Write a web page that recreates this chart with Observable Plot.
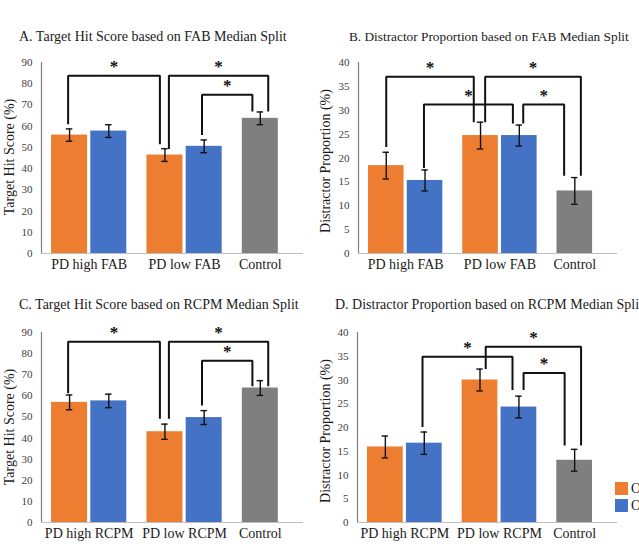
<!DOCTYPE html>
<html><head><meta charset="utf-8">
<script src="https://cdn.jsdelivr.net/npm/d3@7"></script>
<script src="https://cdn.jsdelivr.net/npm/@observablehq/plot@0.6"></script>
<style>
body{margin:0;background:#fff;}
#fig{position:relative;width:639px;height:548px;overflow:hidden;background:#fff;font-family:"Liberation Serif","Times New Roman",serif;color:#1a1a1a;}
.title{position:absolute;font-size:14px;line-height:14px;white-space:nowrap;}
.ylab{position:absolute;font-size:14px;line-height:14px;white-space:nowrap;transform:translate(-50%,-50%) rotate(-90deg);}
.panel{position:absolute;}
.leg{position:absolute;width:13px;height:13px;}
.legt{position:absolute;font-size:14px;line-height:14px;white-space:nowrap;}
</style></head><body><div id="fig"></div>
<script>
// ---- data ----
const seriesNames = ["OFF", "ON", "Control"];
const seriesColors = ["#ED7D31", "#4472C4", "#7F7F7F"];
const catsFAB = ["PD high FAB", "PD low FAB", "Control"];
const catsRCPM = ["PD high RCPM", "PD low RCPM", "Control"];
// bar order: high OFF, high ON, low OFF, low ON, Control
const barSeries = [0, 1, 0, 1, 2];
const barGroup = [0, 0, 1, 1, 2];

const hitFAB = [55.8, 57.7, 46.4, 50.5, 63.7];
const hitFABErr = [2.9, 3.0, 3.0, 3.0, 3.0];
const disFAB = [18.4, 15.3, 24.7, 24.7, 13.1];
const disFABErr = [2.8, 2.2, 2.8, 2.2, 2.8];
const hitRCPM = [56.9, 57.6, 43.0, 49.7, 63.7];
const hitRCPMErr = [3.5, 3.2, 3.6, 3.3, 3.5];
const disRCPM = [15.9, 16.7, 30.0, 24.3, 13.1];
const disRCPMErr = [2.3, 2.35, 2.3, 2.3, 2.3];

// significance brackets: [fromBar, fromShift, fromY, topY, toBar, toShift, toY]
const sigA = [[0, -0.04, 60.9, 83.7, 2, -0.14, 51.5], [2, 0.11, 49.2, 83.7, 4, 0.22, 66.9], [3, -0.06, 55.8, 74.8, 4, -0.22, 66.9]];
const sigB = [[0, 0.0, 22.3, 37.0, 2, -0.19, 27.5], [2, 0.13, 27.5, 37.0, 4, 0.17, 16.3], [1, -0.03, 17.9, 31.2, 3, -0.18, 27.2], [3, 0.11, 27.2, 31.2, 4, -0.3, 16.3]];
const sigC = [[0, -0.04, 61.2, 85.6, 2, -0.14, 49.1], [2, 0.11, 49.1, 85.6, 4, 0.22, 64.5], [3, -0.06, 55.4, 76.6, 4, -0.22, 64.5]];
const sigD = [[1, -0.05, 20.1, 34.9, 3, -0.18, 27.9], [2, 0.16, 32.3, 37.0, 4, 0.18, 16.2], [3, 0.13, 27.9, 31.5, 4, -0.28, 16.2]];

const titles = ["A. Target  Hit  Score based on FAB Median Split", "B. Distractor Proportion based on FAB Median Split",
  "C. Target  Hit  Score based on RCPM Median Split", "D. Distractor  Proportion based on RCPM Median Split"];
const yLabels = ["Target  Hit  Score (%)", "Distractor  Proportion (%)"];

const SERIF = '"Liberation Serif", "Times New Roman", serif';

// ---- layout helper (bar units: one bar = 1) ----
const LEAD = 0.28, IN_GAP = 0.09, GROUP_GAP = 0.56, TRAIL = 0.7;
function layoutBars(values, errs) {
  let pos = LEAD, prevGroup = 0;
  return values.map((v, i) => {
    if (i > 0) pos += barGroup[i] === prevGroup ? IN_GAP : GROUP_GAP;
    prevGroup = barGroup[i];
    const b = {x1: pos, x2: pos + 1, cx: pos + 0.5, value: v, lo: v - errs[i], hi: v + errs[i], fill: seriesColors[barSeries[i]], group: barGroup[i]};
    pos += 1;
    return b;
  });
}

function panel(cfg) {
  const bars = layoutBars(cfg.values, cfg.errs);
  const xEnd = bars[bars.length - 1].x2 + TRAIL;
  const centers = [0, 1, 2].map(g => d3.mean(bars.filter(b => b.group === g), b => b.cx));
  const pts = [];
  const stars = [];
  cfg.sig.forEach((s, k) => {
    const xa = bars[s[0]].cx + s[1], xb = bars[s[4]].cx + s[5];
    pts.push({k, x: xa, y: s[2]}, {k, x: xa, y: s[3]}, {k, x: xb, y: s[3]}, {k, x: xb, y: s[6]});
    stars.push({x: (xa + xb) / 2, y: s[3]});
  });
  const capW = 0.09;
  return Plot.plot({
    width: cfg.width, height: cfg.height,
    marginLeft: cfg.ml, marginRight: cfg.mr, marginTop: cfg.mt, marginBottom: cfg.mb,
    style: {background: "transparent", overflow: "visible", fontFamily: SERIF, color: "#333"},
    x: {domain: [0, xEnd], axis: null},
    y: {domain: [0, cfg.ymax], axis: null},
    marks: [
      Plot.rect(bars, {x1: "x1", x2: "x2", y1: 0, y2: "value", fill: "fill"}),
      Plot.ruleY([0], {stroke: "#bfbfbf", strokeWidth: 1.2}),
      Plot.ruleX([0], {stroke: "#7f7f7f", strokeWidth: 1.2}),
      Plot.ruleX(bars, {x: "cx", y1: "lo", y2: "hi", stroke: "#111", strokeWidth: 1.4}),
      Plot.ruleY(bars, {y: "hi", x1: d => d.cx - capW, x2: d => d.cx + capW, stroke: "#111", strokeWidth: 1.4}),
      Plot.ruleY(bars, {y: "lo", x1: d => d.cx - capW, x2: d => d.cx + capW, stroke: "#111", strokeWidth: 1.4}),
      Plot.line(pts, {x: "x", y: "y", z: "k", stroke: "#111", strokeWidth: 2, strokeLinejoin: "miter", strokeLinecap: "butt"}),
      Plot.text(stars, {x: "x", y: "y", text: () => "*", fontSize: 17, dy: -4, lineAnchor: "bottom", fill: "#111", fontWeight: "bold", fontFamily: SERIF}),
      Plot.axisY({ticks: d3.range(0, cfg.ymax + 0.001, cfg.step), tickSize: 0, tickPadding: 9, fontSize: 11, label: null, fill: "#404040", fontFamily: SERIF}),
      Plot.axisX({ticks: centers, tickFormat: d => cfg.cats[centers.indexOf(d)], tickSize: 0, tickPadding: 6, fontSize: 14, label: null, fill: "#1a1a1a", fontFamily: SERIF})
    ]
  });
}

const fig = document.getElementById("fig");
function addDiv(cls, text, css) {
  const d = document.createElement("div");
  d.className = cls; d.textContent = text;
  Object.assign(d.style, css);
  fig.appendChild(d);
  return d;
}

const panels = [
  {left: 0, top: 45, width: 320, height: 245, ml: 41, mr: 17, mt: 17, mb: 37, values: hitFAB, errs: hitFABErr, sig: sigA, ymax: 90, step: 10, cats: catsFAB},
  {left: 315, top: 45, width: 320, height: 245, ml: 43, mr: 18, mt: 17, mb: 37, values: disFAB, errs: disFABErr, sig: sigB, ymax: 40, step: 5, cats: catsFAB},
  {left: 0, top: 314, width: 320, height: 245, ml: 41, mr: 17, mt: 18, mb: 37, values: hitRCPM, errs: hitRCPMErr, sig: sigC, ymax: 90, step: 10, cats: catsRCPM},
  {left: 315, top: 314, width: 320, height: 245, ml: 42, mr: 18, mt: 18, mb: 37, values: disRCPM, errs: disRCPMErr, sig: sigD, ymax: 40, step: 5, cats: catsRCPM}
];
const titlePos = [[19, 30], [349, 30], [19, 298], [335, 298]];
const titleSize = [14, 13.3, 14, 14];
const ylabPos = [[10, 157], [326, 161], [10, 427], [326, 431]];

panels.forEach((p, i) => {
  const wrap = document.createElement("div");
  wrap.className = "panel";
  wrap.style.left = p.left + "px"; wrap.style.top = p.top + "px";
  wrap.appendChild(panel(p));
  fig.appendChild(wrap);
  addDiv("title", titles[i], {left: titlePos[i][0] + "px", top: titlePos[i][1] + "px", fontSize: titleSize[i] + "px"});
  addDiv("ylab", yLabels[i % 2], {left: ylabPos[i][0] + "px", top: ylabPos[i][1] + "px"});
});

// legend (partly cut off at the right edge, as in the reference)
[0, 1].forEach(i => {
  addDiv("leg", "", {left: "615px", top: (482 + i * 17) + "px", background: seriesColors[i]});
  addDiv("legt", seriesNames[i], {left: "631px", top: (482 + i * 17) + "px"});
});
</script>
</body></html>
